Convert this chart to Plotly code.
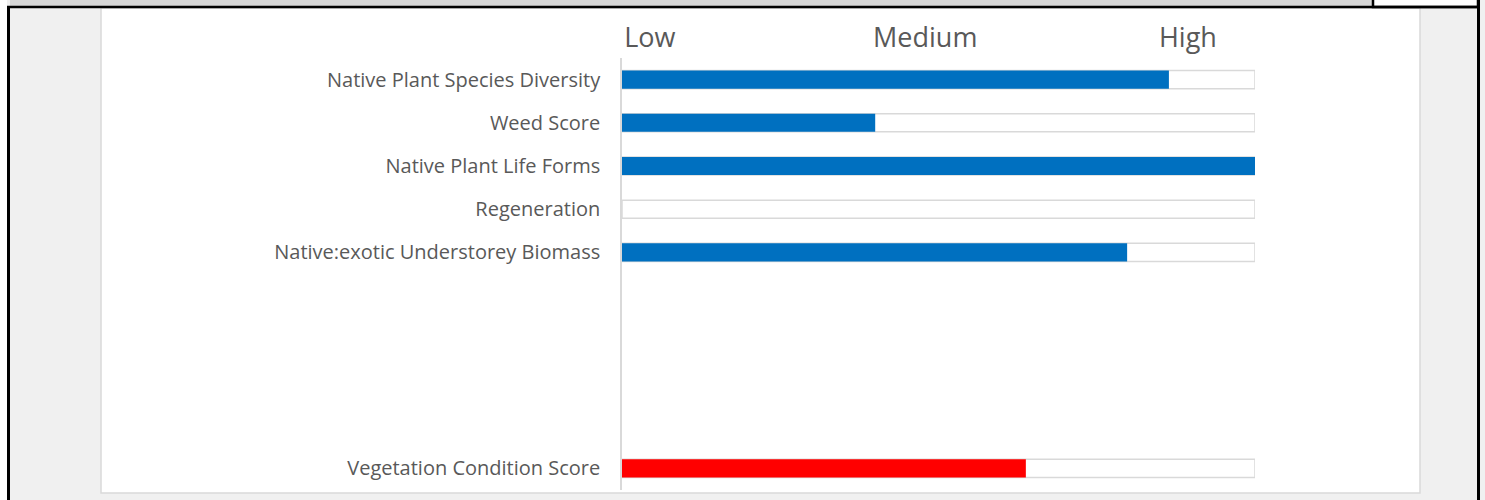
import plotly.graph_objects as go

# ---- data ----
categories = [
    "Native Plant Species Diversity",
    "Weed Score",
    "Native Plant Life Forms",
    "Regeneration",
    "Native:exotic Understorey Biomass",
    "", "", "", "",
    "Vegetation Condition Score",
]
scores = [0.864, 0.40, 1.0, 0.0, 0.798, None, None, None, None, 0.638]
track_max = [1, 1, 1, 1, 1, None, None, None, None, 1]
bar_colors = ["#0070C0"] * 9 + ["#FF0000"]
scale_ticks = [0.044, 0.479, 0.894]
scale_labels = ["Low", "Medium", "High"]

W, H = 1485, 500
L, R, T, B = 622, 1485 - 1255, 58, 10
pw, ph = W - L - R, H - T - B


def px(x):
    return (x - L) / pw


def py(y):
    return 1 - (y - T) / ph


pos = list(range(len(categories)))

fig = go.Figure()
fig.add_trace(go.Bar(
    y=pos, x=track_max, orientation="h", width=0.42,
    marker=dict(color="#FFFFFF", line=dict(color="#D9D9D9", width=1.5)),
    hoverinfo="skip", showlegend=False,
))
fig.add_trace(go.Bar(
    y=pos, x=scores, orientation="h", width=0.42,
    marker=dict(color=bar_colors, line=dict(width=0)),
    showlegend=False,
))

shapes = []
shapes.append(dict(type="rect", xref="paper", yref="paper",
                   x0=px(101), x1=px(1420), y0=py(493), y1=py(8),
                   fillcolor="#FFFFFF", line=dict(color="#D9D9D9", width=1.5), layer="below"))
shapes.append(dict(type="rect", xref="paper", yref="paper",
                   x0=px(10), x1=px(1372), y0=py(6), y1=py(-2),
                   fillcolor="#D6D6D6", line=dict(width=0), layer="below"))
shapes.append(dict(type="rect", xref="paper", yref="paper",
                   x0=px(-2), x1=px(7), y0=py(502), y1=py(-2),
                   fillcolor="#FFFFFF", line=dict(width=0), layer="below"))
shapes.append(dict(type="rect", xref="paper", yref="paper",
                   x0=px(1373), x1=px(1478), y0=py(7), y1=py(-2),
                   fillcolor="#FFFFFF", line=dict(color="#000000", width=2.5), layer="below"))
shapes.append(dict(type="line", xref="paper", yref="paper",
                   x0=px(7), x1=px(1480), y0=py(7), y1=py(7),
                   line=dict(color="#000000", width=2.5), layer="below"))
shapes.append(dict(type="line", xref="paper", yref="paper",
                   x0=px(8.5), x1=px(8.5), y0=py(502), y1=py(6),
                   line=dict(color="#000000", width=3), layer="below"))
shapes.append(dict(type="line", xref="paper", yref="paper",
                   x0=px(1478.5), x1=px(1478.5), y0=py(502), y1=py(-2),
                   line=dict(color="#000000", width=3), layer="below"))

fig.update_layout(
    width=W, height=H,
    margin=dict(l=L, r=R, t=T, b=B, autoexpand=False),
    paper_bgcolor="#F0F0F0", plot_bgcolor="#FFFFFF",
    barmode="overlay",
    shapes=shapes,
    font=dict(family="Open Sans", color="#595959"),
    xaxis=dict(range=[0, 1], side="top", tickvals=scale_ticks, ticktext=scale_labels,
               showgrid=False, zeroline=False, showline=False, ticks="",
               tickfont=dict(size=27, color="#595959"), ticklabelstandoff=5,
               fixedrange=True),
    yaxis=dict(range=[len(categories) - 0.5, -0.5], tickvals=pos, ticktext=categories,
               showgrid=False, zeroline=False, showline=True, linecolor="#D9D9D9", linewidth=1.5,
               ticks="", tickfont=dict(size=20, color="#595959"), ticklabelstandoff=16,
               fixedrange=True),
)

fig.write_html(
    "out.html",
    config={"displayModeBar": False},
    post_script="document.body.style.margin='0';document.body.style.overflow='hidden';",
)
